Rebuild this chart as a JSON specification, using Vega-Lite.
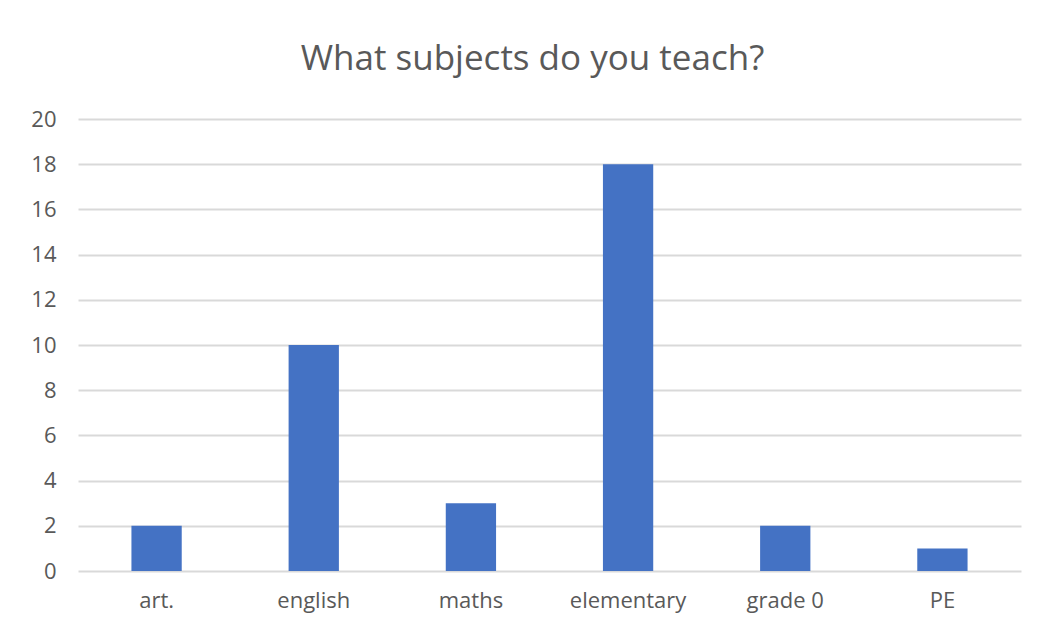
{
  "$schema": "https://vega.github.io/schema/vega-lite/v6.json",
  "autosize": "none",
  "padding": {"left": 78, "top": 119, "right": 16, "bottom": 61},
  "width": 943,
  "height": 452,
  "background": "white",
  "title": {
    "text": "What subjects do you teach?",
    "font": "Open Sans",
    "fontSize": 35,
    "fontWeight": "normal",
    "color": "#595959",
    "anchor": "middle",
    "dx": -17,
    "offset": 31
  },
  "data": {
    "values": [
      {"subject": "art.", "count": 2},
      {"subject": "english", "count": 10},
      {"subject": "maths", "count": 3},
      {"subject": "elementary", "count": 18},
      {"subject": "grade 0", "count": 2},
      {"subject": "PE", "count": 1}
    ]
  },
  "mark": {"type": "bar", "color": "#4472C4"},
  "encoding": {
    "x": {
      "field": "subject",
      "type": "nominal",
      "sort": null,
      "title": null,
      "scale": {"paddingInner": 0.68, "paddingOuter": 0.34},
      "axis": {
        "labelAngle": 0,
        "labelFont": "Open Sans",
        "labelFontSize": 22,
        "labelColor": "#595959",
        "labelPadding": 19,
        "ticks": false,
        "domain": false,
        "grid": false
      }
    },
    "y": {
      "field": "count",
      "type": "quantitative",
      "title": null,
      "scale": {"domain": [0, 20], "nice": false},
      "axis": {
        "values": [0, 2, 4, 6, 8, 10, 12, 14, 16, 18, 20],
        "labelFont": "Open Sans",
        "labelFontSize": 22,
        "labelColor": "#595959",
        "labelPadding": 22,
        "ticks": false,
        "domain": false,
        "grid": true,
        "gridColor": "#d9d9d9",
        "gridWidth": 2
      }
    }
  },
  "config": {"view": {"stroke": null}}
}
